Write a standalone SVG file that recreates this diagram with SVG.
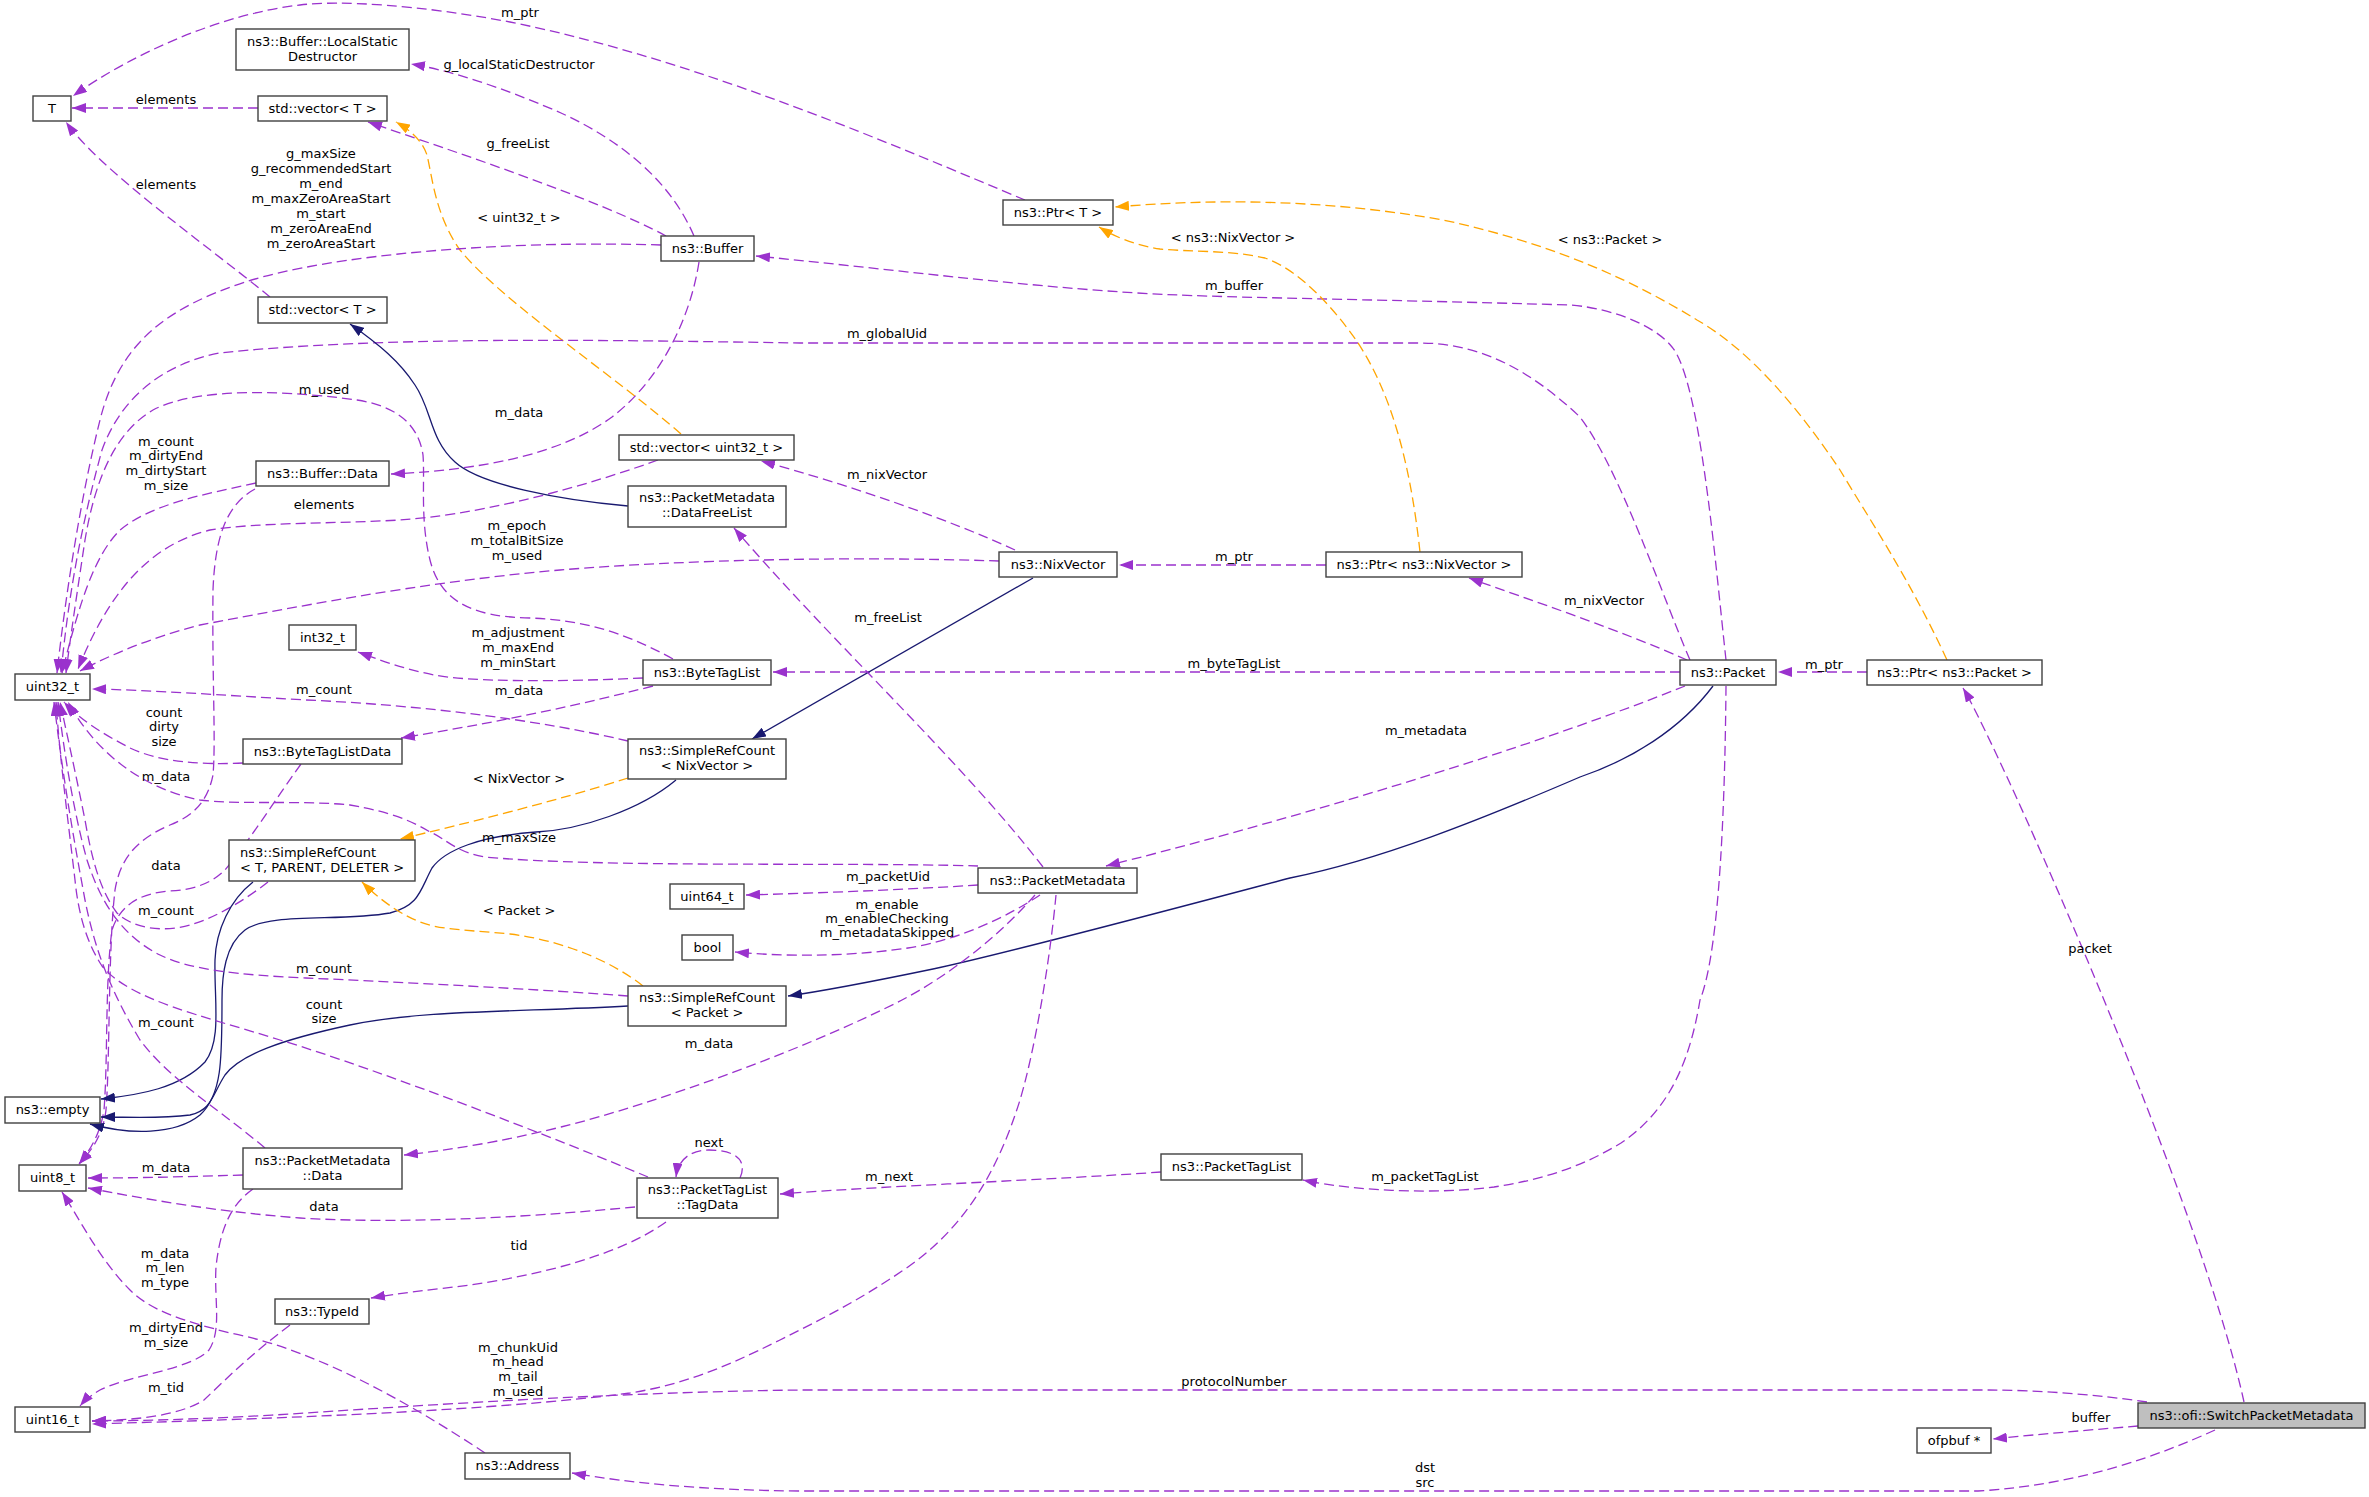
<svg xmlns="http://www.w3.org/2000/svg" width="2369" height="1497" viewBox="0 0 2369 1497">
<style>
text{font-family:"DejaVu Sans","Liberation Sans",sans-serif;font-size:13px;fill:#000}
.n rect{fill:#fff;stroke:#404040;stroke-width:1.4}
.n text{text-anchor:middle}
.e path{fill:none;stroke-width:1.3}
.p{stroke:#9a32cd;stroke-dasharray:10,5;marker-end:url(#ap)}
.o{stroke:#ffa500;stroke-dasharray:10,5;marker-end:url(#ao)}
.b{stroke:#191970;marker-end:url(#ab)}
.l{text-anchor:middle}
</style>
<defs>
<marker id="ap" markerUnits="userSpaceOnUse" viewBox="0 0 14 10" refX="14" refY="5" markerWidth="14" markerHeight="10" orient="auto"><path d="M0,0 L14,5 L0,10 z" fill="#9a32cd"/></marker>
<marker id="ao" markerUnits="userSpaceOnUse" viewBox="0 0 14 10" refX="14" refY="5" markerWidth="14" markerHeight="10" orient="auto"><path d="M0,0 L14,5 L0,10 z" fill="#ffa500"/></marker>
<marker id="ab" markerUnits="userSpaceOnUse" viewBox="0 0 14 10" refX="14" refY="5" markerWidth="14" markerHeight="10" orient="auto"><path d="M0,0 L14,5 L0,10 z" fill="#191970"/></marker>
</defs>
<rect width="2369" height="1497" fill="#fff"/>
<g id="edges" class="e">
<path class="p" d="M1025,200 C900,148 700,60 510,22 C420,5 340,0 300,5 C220,14 130,55 73,96"/>
<path class="p" d="M694,236 C670,180 620,140 561,113 C520,95 460,72 411,64"/>
<path class="p" d="M258,108 L72,108"/>
<path class="p" d="M666,236 C600,200 450,150 368,122"/>
<path class="p" d="M270,297 C200,240 100,170 66,122"/>
<path class="o" d="M681,434 C620,380 500,300 460,250 C435,215 432,175 427,155 C422,140 410,130 396,122"/>
<path class="p" d="M661,245 C500,240 330,255 245,282 C170,307 120,340 100,420 C80,500 65,600 57,673"/>
<path class="p" d="M1726,660 C1715,560 1700,380 1672,347 C1650,320 1600,307 1570,305 C1400,300 1250,298 1178,295 C1050,290 900,270 756,256"/>
<path class="p" d="M1690,660 C1660,590 1620,470 1580,417 C1530,370 1480,343 1420,343 L800,343 C600,340 380,336 219,353 C160,365 120,400 102,450 C80,530 68,600 61,673"/>
<path class="p" d="M699,262 C690,320 660,380 612,417 C560,455 480,470 391,474"/>
<path class="p" d="M673,659 C620,630 580,620 530,618 C470,617 440,600 430,560 C420,520 425,480 423,455 C418,420 390,405 357,400 C300,392 200,385 153,410 C115,432 95,480 85,540 C76,600 70,640 66,673"/>
<path class="p" d="M256,483 C200,495 150,505 120,530 C95,555 80,600 62,673"/>
<path class="p" d="M658,460 C560,495 470,515 400,520 C330,524 260,522 210,530 C150,545 110,590 78,669"/>
<path class="p" d="M1015,550 C950,520 850,485 761,461"/>
<path class="p" d="M999,561 C850,556 680,560 560,570 C420,582 280,610 200,625 C150,638 110,655 80,671"/>
<path class="p" d="M1326,565 L1119,565"/>
<path class="p" d="M1687,660 C1620,630 1530,600 1469,578"/>
<path class="o" d="M1420,552 C1410,460 1390,390 1356,340 C1335,310 1300,270 1265,258 C1230,250 1190,252 1160,249 C1135,245 1115,237 1099,227"/>
<path class="o" d="M1947,660 C1910,580 1870,520 1840,470 C1800,410 1750,350 1697,320 C1640,285 1560,245 1443,220 C1330,200 1220,198 1115,207"/>
<path class="p" d="M1680,672 L773,672"/>
<path class="b" d="M1033,578 L752,739"/>
<path class="p" d="M643,678 C560,682 470,682 434,675 C400,668 380,660 358,652"/>
<path class="p" d="M653,686 C560,710 480,725 401,738"/>
<path class="p" d="M628,741 C540,720 420,705 306,700 C220,695 150,690 92,689"/>
<path class="p" d="M243,763 C200,765 160,762 130,748 C105,735 80,720 64,702"/>
<path class="p" d="M978,866 C850,862 600,868 485,857 C455,852 445,838 430,832 C410,820 390,812 350,805 C300,800 240,805 200,800 C150,790 100,760 68,702"/>
<path class="p" d="M301,764 C275,800 250,840 225,870 C210,885 190,890 170,891 C140,893 120,905 112,930 C105,980 108,1060 104,1110 C100,1135 90,1150 79,1164"/>
<path class="p" d="M255,489 C225,505 215,540 213,590 C212,680 216,740 213,775 C208,800 195,815 170,825 C135,840 120,860 115,890 C108,950 110,1060 106,1110 C103,1135 92,1150 79,1164"/>
<path class="p" d="M268,882 C245,900 215,918 190,925 C165,932 135,930 117,913 C100,890 92,860 85,820 C75,770 66,730 60,702"/>
<path class="o" d="M628,778 C560,800 460,825 400,839"/>
<path class="b" d="M676,780 C640,810 580,830 536,832 C480,836 445,850 432,868 C420,890 420,905 390,913 C340,922 270,912 245,930 C225,945 222,975 222,1000 C222,1060 222,1095 200,1115 C175,1135 130,1135 90,1124"/>
<path class="b" d="M253,882 C230,900 216,930 215,960 C214,1000 222,1040 205,1062 C180,1088 140,1095 101,1099"/>
<path class="b" d="M628,1006 C520,1012 420,1010 350,1025 C280,1040 240,1055 225,1075 C212,1095 212,1110 190,1115 C160,1119 130,1117 101,1117"/>
<path class="p" d="M628,996 C550,990 400,982 306,978 C240,975 190,970 160,955 C120,935 100,900 87,860 C73,810 64,750 58,702"/>
<path class="o" d="M643,986 C610,960 560,940 510,934 C470,930 440,930 420,922 C395,912 375,895 362,882"/>
<path class="b" d="M1713,686 C1680,730 1630,760 1580,777 C1480,820 1380,860 1290,878 C1150,915 1000,955 933,969 C880,980 830,990 788,996"/>
<path class="p" d="M1685,686 C1500,760 1250,830 1106,866"/>
<path class="p" d="M1043,867 C960,760 830,640 734,528"/>
<path class="p" d="M978,885 C900,890 820,893 746,895"/>
<path class="p" d="M1040,895 C1010,915 960,940 908,948 C860,955 800,958 735,952"/>
<path class="p" d="M1035,895 C1000,935 950,975 902,1000 C800,1052 650,1105 561,1127 C500,1142 450,1150 404,1155"/>
<path class="p" d="M1056,895 C1050,960 1035,1050 1020,1100 C995,1180 960,1230 908,1267 C860,1300 820,1320 780,1340 C720,1370 680,1385 630,1393 C500,1410 300,1418 92,1424"/>
<path class="p" d="M2147,1402 C2100,1395 2040,1390 1988,1390 L800,1390 C650,1392 500,1400 306,1413 C230,1418 150,1421 92,1421"/>
<path class="p" d="M2138,1426 C2090,1430 2040,1434 1993,1439"/>
<path class="p" d="M2215,1430 C2160,1455 2080,1485 1978,1491 L800,1491 C700,1490 630,1483 572,1473"/>
<path class="p" d="M2244,1402 C2200,1200 2000,750 1963,688"/>
<path class="p" d="M1867,672 L1778,672"/>
<path class="p" d="M1726,686 C1725,800 1720,950 1700,1000 C1690,1060 1670,1110 1621,1143 C1580,1168 1540,1180 1494,1187 C1440,1194 1360,1192 1303,1180"/>
<path class="p" d="M1161,1172 C1050,1180 900,1185 780,1194"/>
<path class="p" d="M740,1178 C748,1160 735,1150 709,1150 C690,1150 678,1160 676,1177"/>
<path class="p" d="M648,1177 C560,1140 380,1070 280,1040 C200,1015 130,1000 102,966 C85,940 78,910 75,880 C68,820 60,760 56,702"/>
<path class="p" d="M635,1207 C550,1215 420,1225 300,1218 C220,1212 150,1200 88,1188"/>
<path class="p" d="M666,1222 C620,1255 540,1275 470,1285 C430,1290 400,1293 371,1298"/>
<path class="p" d="M243,1175 C180,1177 130,1178 88,1178"/>
<path class="p" d="M265,1148 C220,1110 170,1080 140,1040 C110,990 95,950 85,900 C72,830 62,770 54,702"/>
<path class="p" d="M253,1189 C230,1205 220,1230 216,1267 C214,1300 222,1330 209,1350 C190,1370 130,1375 100,1390 C90,1396 85,1400 80,1406"/>
<path class="p" d="M290,1325 C250,1355 225,1380 204,1400 C180,1415 140,1420 92,1421"/>
<path class="p" d="M485,1453 C420,1410 320,1350 230,1333 C180,1320 150,1310 130,1290 C100,1260 80,1220 62,1192"/>
<path class="b" d="M628,506 C560,500 480,485 455,462 C430,440 432,410 415,385 C400,362 380,345 350,324"/>
</g>
<g id="labels">
<text class="l" x="520" y="17">m_ptr</text>
<text class="l" x="519" y="69">g_localStaticDestructor</text>
<text class="l" x="166" y="104">elements</text>
<text class="l" x="518" y="148">g_freeList</text>
<text class="l" x="166" y="189">elements</text>
<text class="l" x="519" y="222">&lt; uint32_t &gt;</text>
<text class="l" x="321" y="158">g_maxSize</text>
<text class="l" x="321" y="173">g_recommendedStart</text>
<text class="l" x="321" y="188">m_end</text>
<text class="l" x="321" y="203">m_maxZeroAreaStart</text>
<text class="l" x="321" y="218">m_start</text>
<text class="l" x="321" y="233">m_zeroAreaEnd</text>
<text class="l" x="321" y="248">m_zeroAreaStart</text>
<text class="l" x="1234" y="290">m_buffer</text>
<text class="l" x="887" y="338">m_globalUid</text>
<text class="l" x="519" y="417">m_data</text>
<text class="l" x="324" y="394">m_used</text>
<text class="l" x="166" y="446">m_count</text>
<text class="l" x="166" y="460">m_dirtyEnd</text>
<text class="l" x="166" y="475">m_dirtyStart</text>
<text class="l" x="166" y="490">m_size</text>
<text class="l" x="324" y="509">elements</text>
<text class="l" x="887" y="479">m_nixVector</text>
<text class="l" x="517" y="530">m_epoch</text>
<text class="l" x="517" y="545">m_totalBitSize</text>
<text class="l" x="517" y="560">m_used</text>
<text class="l" x="1234" y="561">m_ptr</text>
<text class="l" x="1604" y="605">m_nixVector</text>
<text class="l" x="1233" y="242">&lt; ns3::NixVector &gt;</text>
<text class="l" x="1610" y="244">&lt; ns3::Packet &gt;</text>
<text class="l" x="1234" y="668">m_byteTagList</text>
<text class="l" x="518" y="637">m_adjustment</text>
<text class="l" x="518" y="652">m_maxEnd</text>
<text class="l" x="518" y="667">m_minStart</text>
<text class="l" x="519" y="695">m_data</text>
<text class="l" x="324" y="694">m_count</text>
<text class="l" x="164" y="717">count</text>
<text class="l" x="164" y="731">dirty</text>
<text class="l" x="164" y="746">size</text>
<text class="l" x="519" y="842">m_maxSize</text>
<text class="l" x="166" y="870">data</text>
<text class="l" x="166" y="781">m_data</text>
<text class="l" x="166" y="915">m_count</text>
<text class="l" x="519" y="783">&lt; NixVector &gt;</text>
<text class="l" x="324" y="973">m_count</text>
<text class="l" x="519" y="915">&lt; Packet &gt;</text>
<text class="l" x="1426" y="735">m_metadata</text>
<text class="l" x="888" y="622">m_freeList</text>
<text class="l" x="888" y="881">m_packetUid</text>
<text class="l" x="887" y="909">m_enable</text>
<text class="l" x="887" y="923">m_enableChecking</text>
<text class="l" x="887" y="937">m_metadataSkipped</text>
<text class="l" x="709" y="1048">m_data</text>
<text class="l" x="518" y="1352">m_chunkUid</text>
<text class="l" x="518" y="1366">m_head</text>
<text class="l" x="518" y="1381">m_tail</text>
<text class="l" x="518" y="1396">m_used</text>
<text class="l" x="1234" y="1386">protocolNumber</text>
<text class="l" x="2091" y="1422">buffer</text>
<text class="l" x="1425" y="1472">dst</text>
<text class="l" x="1425" y="1487">src</text>
<text class="l" x="2090" y="953">packet</text>
<text class="l" x="1824" y="669">m_ptr</text>
<text class="l" x="1425" y="1181">m_packetTagList</text>
<text class="l" x="889" y="1181">m_next</text>
<text class="l" x="709" y="1147">next</text>
<text class="l" x="324" y="1009">count</text>
<text class="l" x="324" y="1023">size</text>
<text class="l" x="324" y="1211">data</text>
<text class="l" x="519" y="1250">tid</text>
<text class="l" x="166" y="1172">m_data</text>
<text class="l" x="166" y="1027">m_count</text>
<text class="l" x="166" y="1332">m_dirtyEnd</text>
<text class="l" x="166" y="1347">m_size</text>
<text class="l" x="166" y="1392">m_tid</text>
<text class="l" x="165" y="1258">m_data</text>
<text class="l" x="165" y="1272">m_len</text>
<text class="l" x="165" y="1287">m_type</text>
</g>
<g id="n_T" class="n"><rect x="33" y="96" width="38" height="25"/><text x="52" y="113">T</text></g>
<g id="n_lsd" class="n"><rect x="236" y="29" width="173" height="41"/><text x="322.5" y="46">ns3::Buffer::LocalStatic</text><text x="322.5" y="61">Destructor</text></g>
<g id="n_vecT1" class="n"><rect x="258" y="96" width="129" height="25"/><text x="322.5" y="113">std::vector&lt; T &gt;</text></g>
<g id="n_buffer" class="n"><rect x="661" y="236" width="93" height="25"/><text x="707.5" y="253">ns3::Buffer</text></g>
<g id="n_vecT2" class="n"><rect x="258" y="297" width="129" height="26"/><text x="322.5" y="314">std::vector&lt; T &gt;</text></g>
<g id="n_bufdata" class="n"><rect x="256" y="461" width="133" height="25"/><text x="322.5" y="478">ns3::Buffer::Data</text></g>
<g id="n_vecu32" class="n"><rect x="619" y="435" width="175" height="25"/><text x="706.5" y="452">std::vector&lt; uint32_t &gt;</text></g>
<g id="n_dfl" class="n"><rect x="628" y="486" width="158" height="41"/><text x="707" y="502">ns3::PacketMetadata</text><text x="707" y="517">::DataFreeList</text></g>
<g id="n_int32" class="n"><rect x="289" y="625" width="67" height="25"/><text x="322.5" y="642">int32_t</text></g>
<g id="n_uint32" class="n"><rect x="15" y="674" width="75" height="26"/><text x="52.5" y="691">uint32_t</text></g>
<g id="n_btl" class="n"><rect x="643" y="660" width="128" height="25"/><text x="707" y="677">ns3::ByteTagList</text></g>
<g id="n_btld" class="n"><rect x="243" y="739" width="159" height="25"/><text x="322.5" y="756">ns3::ByteTagListData</text></g>
<g id="n_srcnix" class="n"><rect x="628" y="739" width="158" height="40"/><text x="707" y="755">ns3::SimpleRefCount</text><text x="707" y="770">&lt; NixVector &gt;</text></g>
<g id="n_srctpd" class="n"><rect x="229" y="840" width="186" height="41"/><text x="240" y="857" style="text-anchor:start">ns3::SimpleRefCount</text><text x="240" y="872" style="text-anchor:start">&lt; T, PARENT, DELETER &gt;</text></g>
<g id="n_uint64" class="n"><rect x="670" y="884" width="74" height="25"/><text x="707" y="901">uint64_t</text></g>
<g id="n_bool" class="n"><rect x="682" y="935" width="51" height="25"/><text x="707.5" y="952">bool</text></g>
<g id="n_srcpkt" class="n"><rect x="628" y="986" width="158" height="40"/><text x="707" y="1002">ns3::SimpleRefCount</text><text x="707" y="1017">&lt; Packet &gt;</text></g>
<g id="n_empty" class="n"><rect x="5" y="1097" width="95" height="26"/><text x="52.5" y="1114">ns3::empty</text></g>
<g id="n_uint8" class="n"><rect x="19" y="1165" width="67" height="26"/><text x="52.5" y="1182">uint8_t</text></g>
<g id="n_pmdata" class="n"><rect x="243" y="1148" width="159" height="41"/><text x="322.5" y="1165">ns3::PacketMetadata</text><text x="322.5" y="1180">::Data</text></g>
<g id="n_tagdata" class="n"><rect x="637" y="1178" width="141" height="40"/><text x="707.5" y="1194">ns3::PacketTagList</text><text x="707.5" y="1209">::TagData</text></g>
<g id="n_typeid" class="n"><rect x="275" y="1299" width="94" height="25"/><text x="322" y="1316">ns3::TypeId</text></g>
<g id="n_uint16" class="n"><rect x="15" y="1407" width="75" height="25"/><text x="52.5" y="1424">uint16_t</text></g>
<g id="n_address" class="n"><rect x="465" y="1453" width="105" height="26"/><text x="517.5" y="1470">ns3::Address</text></g>
<g id="n_ptrT" class="n"><rect x="1003" y="200" width="110" height="25"/><text x="1058" y="217">ns3::Ptr&lt; T &gt;</text></g>
<g id="n_nix" class="n"><rect x="999" y="552" width="118" height="25"/><text x="1058" y="569">ns3::NixVector</text></g>
<g id="n_ptrnix" class="n"><rect x="1326" y="552" width="196" height="25"/><text x="1424" y="569">ns3::Ptr&lt; ns3::NixVector &gt;</text></g>
<g id="n_pm" class="n"><rect x="978" y="868" width="159" height="25"/><text x="1057.5" y="885">ns3::PacketMetadata</text></g>
<g id="n_ptl" class="n"><rect x="1161" y="1154" width="141" height="26"/><text x="1231.5" y="1171">ns3::PacketTagList</text></g>
<g id="n_packet" class="n"><rect x="1680" y="660" width="96" height="25"/><text x="1728" y="677">ns3::Packet</text></g>
<g id="n_ptrpkt" class="n"><rect x="1867" y="660" width="175" height="25"/><text x="1954.5" y="677">ns3::Ptr&lt; ns3::Packet &gt;</text></g>
<g id="n_switch" class="n"><rect x="2138" y="1403" width="227" height="25" style="fill:#bfbfbf"/><text x="2251.5" y="1420">ns3::ofi::SwitchPacketMetadata</text></g>
<g id="n_ofpbuf" class="n"><rect x="1917" y="1428" width="74" height="25"/><text x="1954" y="1445">ofpbuf *</text></g>
</svg>
